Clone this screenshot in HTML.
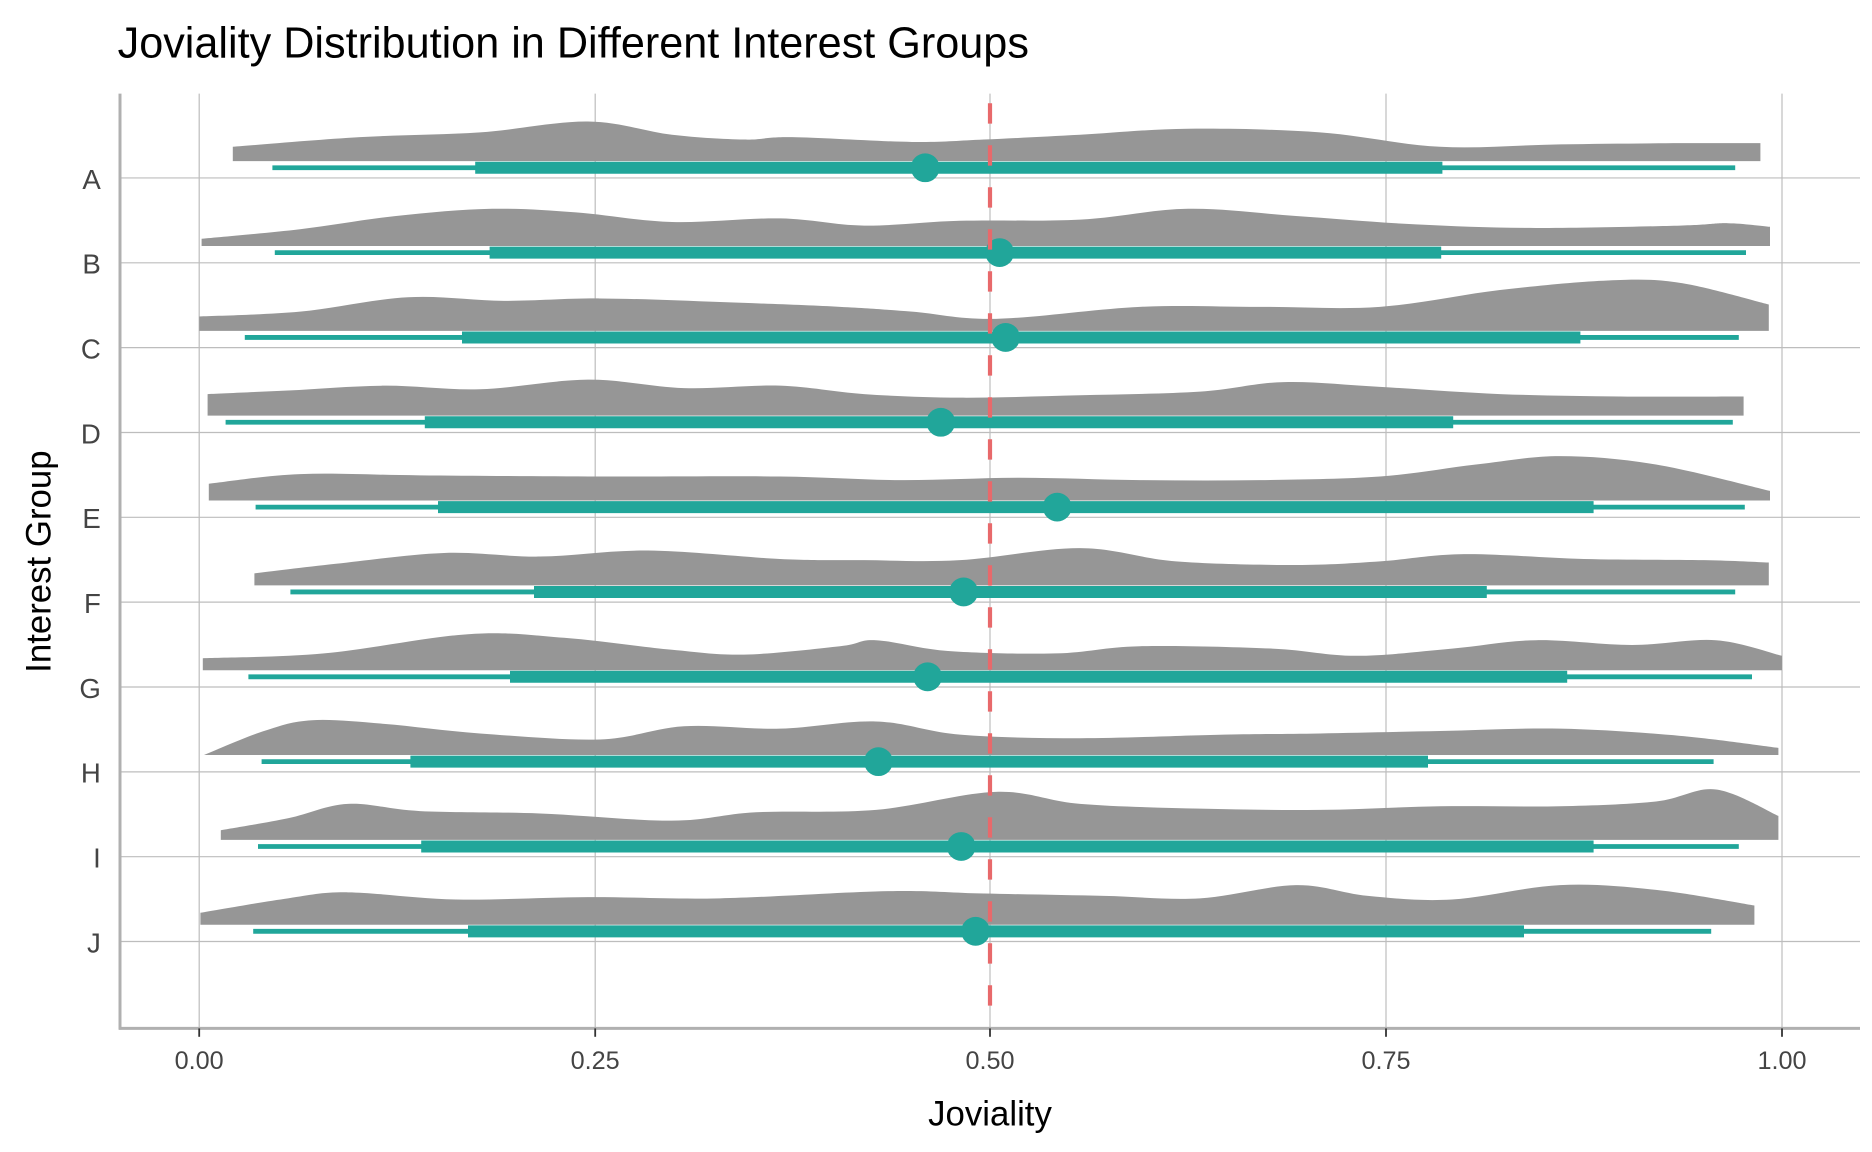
<!DOCTYPE html>
<html><head><meta charset="utf-8"><style>
html,body{margin:0;padding:0;background:#fff;}
svg{display:block;}
text{font-family:"Liberation Sans",Arial,sans-serif;}
</style></head><body>
<svg id="s" xmlns="http://www.w3.org/2000/svg" width="1872" height="1152" viewBox="0 0 1560 960">
<rect width="1560" height="960" fill="#fff"/>
<g id="grid" stroke="#bdbdbd" stroke-width="1"></g>
<g id="vio"></g>
<line x1="825" y1="86" x2="825" y2="857" stroke="#e8696b" stroke-width="3.5" stroke-dasharray="17 18"/>
<line x1="100" y1="78" x2="100" y2="858" stroke="#b0b0b0" stroke-width="2.5"/>
<line x1="99" y1="857" x2="1550" y2="857" stroke="#b0b0b0" stroke-width="2.5"/>
<g id="ticks" stroke="#333" stroke-width="1.5"></g>
<g font-size="21" fill="#444" text-anchor="middle">
<text x="166" y="891">0.00</text><text x="496" y="891">0.25</text><text x="825" y="891">0.50</text><text x="1155" y="891">0.75</text><text x="1485" y="891">1.00</text>
</g>
<g id="ylab" font-size="23" fill="#444" text-anchor="end"></g>
<text x="825" y="938" font-size="29" text-anchor="middle" fill="#000">Joviality</text>
<text transform="translate(42,468) rotate(-90)" font-size="29" text-anchor="middle" fill="#000">Interest Group</text>
<text x="98" y="48" font-size="36" fill="#000">Joviality Distribution in Different Interest Groups</text>
</svg>
<script>
const NS="http://www.w3.org/2000/svg";
function el(p,t,a){const e=document.createElementNS(NS,t);for(const k in a)e.setAttribute(k,a[k]);p.appendChild(e);return e;}
const grid=document.getElementById('grid'),vio=document.getElementById('vio'),ticks=document.getElementById('ticks'),yl=document.getElementById('ylab');
[166,496,825,1155,1485].forEach(x=>{el(grid,'line',{x1:x,y1:78,x2:x,y2:857});el(ticks,'line',{x1:x,y1:857,x2:x,y2:864});});
const labels="ABCDEFGHIJ".split('');
const prof=[
[[194,12],[300,20],[400,24],[490,33],[560,22],[620,18],[660,20],[760,16],[820,18],[900,22],[990,27],[1100,24],[1200,12],[1300,14],[1400,15],[1467,15]],
[[168,6],[250,14],[330,25],[410,31],[480,28],[560,20],[650,23],[720,17],[800,21],[900,22],[990,31],[1080,25],[1180,18],[1280,15],[1400,17],[1440,19],[1475,16]],
[[166,12],[250,16],[340,28],[420,25],[500,27],[600,24],[700,20],[760,16],[830,10],[950,20],[1050,20],[1150,20],[1250,34],[1340,42],[1400,40],[1474,22]],
[[173,18],[240,21],[320,25],[400,22],[490,30],[570,23],[650,25],[720,18],[800,15],[900,17],[1000,20],[1070,28],[1150,24],[1250,18],[1350,16],[1453,16]],
[[174,14],[250,22],[350,21],[500,20],[650,20],[750,17],[850,19],[950,17],[1050,17],[1150,20],[1230,30],[1300,37],[1380,30],[1475,8]],
[[212,10],[280,18],[370,27],[450,24],[540,29],[650,22],[720,21],[800,21],[900,31],[980,20],[1080,17],[1150,20],[1220,26],[1320,22],[1420,21],[1474,19]],
[[169,10],[270,14],[390,30],[470,27],[560,17],[620,13],[700,20],[730,25],[790,16],[880,14],[950,20],[1060,18],[1130,12],[1210,18],[1280,25],[1360,21],[1430,25],[1485,12]],
[[170,0],[220,20],[260,29],[320,26],[400,18],[500,13],[570,24],[650,22],[730,28],[800,17],[900,14],[1020,17],[1100,18],[1200,20],[1300,22],[1400,16],[1482,6]],
[[184,8],[240,18],[290,30],[350,24],[450,22],[560,16],[630,23],[730,25],[830,40],[900,30],[1000,26],[1100,25],[1200,28],[1300,28],[1380,32],[1430,42],[1482,20]],
[[167,10],[240,22],[290,27],[380,21],[490,23],[600,22],[740,28],[820,26],[920,24],[1000,22],[1080,33],[1140,24],[1210,21],[1300,33],[1380,29],[1462,16]]];
const ln=[[227,396,771,1202,1446],[229,408,833,1201,1455],[204,385,838,1317,1449],[188,354,784,1211,1444],[213,365,881,1328,1454],[242,445,803,1239,1446],[207,425,773,1306,1460],[218,342,732,1190,1428],[215,351,801,1328,1449],[211,390,813,1270,1426]];
for(let i=0;i<10;i++){
 const y=148.3+i*70.7;
 el(grid,'line',{x1:100,y1:y,x2:1550,y2:y});
 const t=el(yl,'text',{x:84,y:y+9});t.textContent=labels[i];
 const base=y-14,p=prof[i];
 const pts=p.map(q=>[q[0],base-q[1]]);
 let d=`M${pts[0][0]},${base} L${pts[0][0]},${pts[0][1]}`;
 for(let k=0;k<pts.length-1;k++){
  const p0=pts[Math.max(k-1,0)],p1=pts[k],p2=pts[k+1],p3=pts[Math.min(k+2,pts.length-1)];
  const c1=[p1[0]+(p2[0]-p0[0])/6,p1[1]+(p2[1]-p0[1])/6],c2=[p2[0]-(p3[0]-p1[0])/6,p2[1]-(p3[1]-p1[1])/6];
  d+=` C${c1[0]},${c1[1]} ${c2[0]},${c2[1]} ${p2[0]},${p2[1]}`;
 }
 d+=` L${pts[pts.length-1][0]},${base} Z`;
 el(vio,'path',{d:d,fill:'#969696'});
 const L=ln[i],cy=y-8.5;
 el(vio,'line',{x1:L[0],y1:cy,x2:L[4],y2:cy,stroke:'#21a69a','stroke-width':4});
 el(vio,'line',{x1:L[1],y1:cy,x2:L[3],y2:cy,stroke:'#21a69a','stroke-width':10});
 el(vio,'circle',{cx:L[2],cy:cy,r:12,fill:'#21a69a'});
}
</script>
</body></html>
